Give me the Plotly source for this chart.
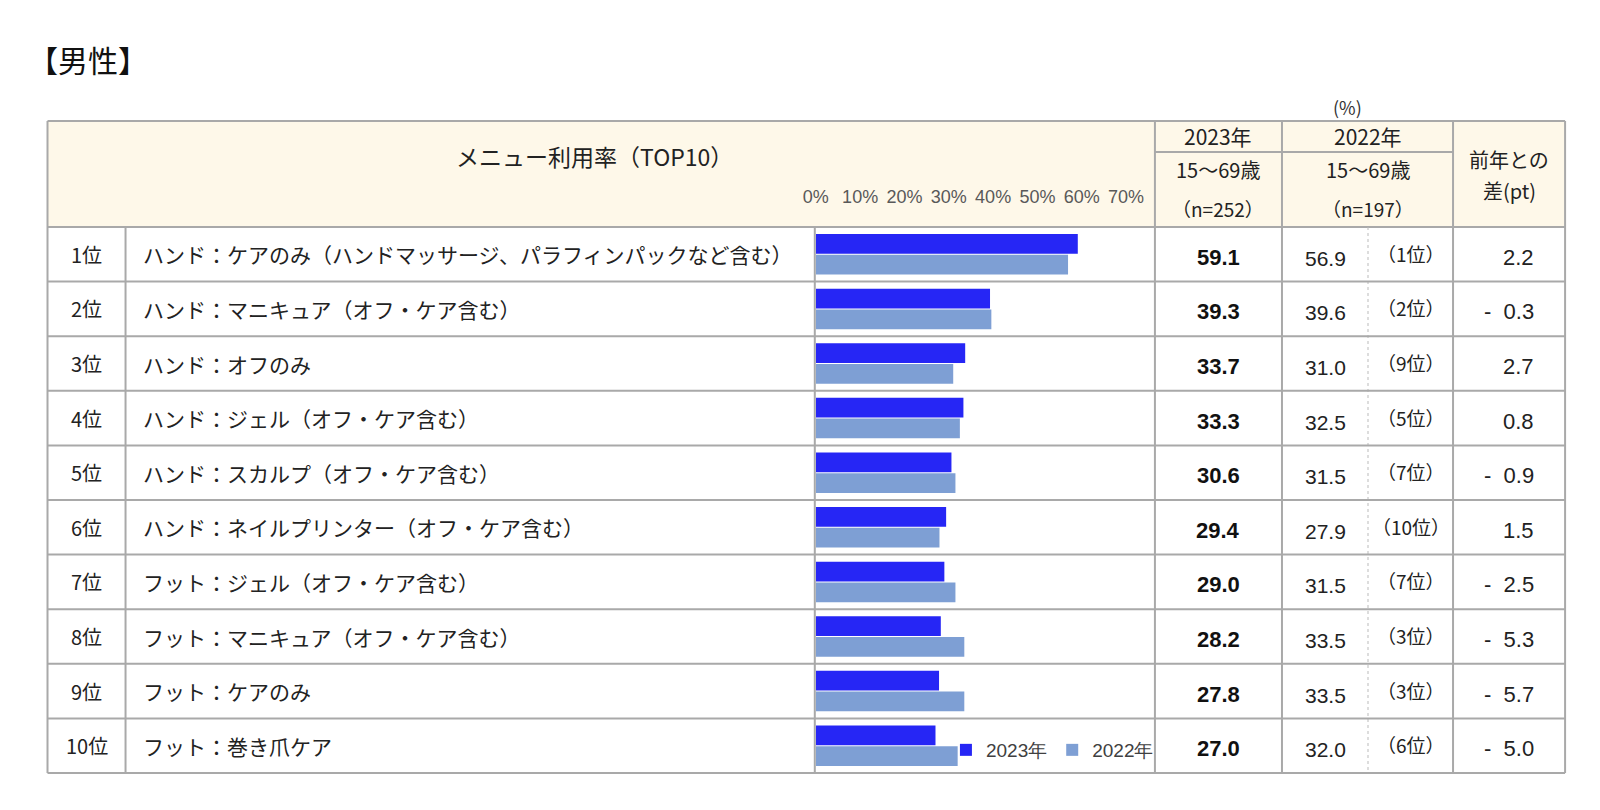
import plotly.graph_objects as go

W, H = 1600, 810

ranks = ["1位", "2位", "3位", "4位", "5位", "6位", "7位", "8位", "9位", "10位"]
menus = [
    "ハンド：ケアのみ（ハンドマッサージ、パラフィンパックなど含む）",
    "ハンド：マニキュア（オフ・ケア含む）",
    "ハンド：オフのみ",
    "ハンド：ジェル（オフ・ケア含む）",
    "ハンド：スカルプ（オフ・ケア含む）",
    "ハンド：ネイルプリンター（オフ・ケア含む）",
    "フット：ジェル（オフ・ケア含む）",
    "フット：マニキュア（オフ・ケア含む）",
    "フット：ケアのみ",
    "フット：巻き爪ケア",
]
v2023 = [59.1, 39.3, 33.7, 33.3, 30.6, 29.4, 29.0, 28.2, 27.8, 27.0]
v2022 = [56.9, 39.6, 31.0, 32.5, 31.5, 27.9, 31.5, 33.5, 33.5, 32.0]
rank2022 = ["（1位）", "（2位）", "（9位）", "（5位）", "（7位）", "（10位）", "（7位）", "（3位）", "（3位）", "（6位）"]
diffs = [2.2, -0.3, 2.7, 0.8, -0.9, 1.5, -2.5, -5.3, -5.7, -5.0]
tick_vals = [0, 10, 20, 30, 40, 50, 60, 70]
tick_text = ["0%", "10%", "20%", "30%", "40%", "50%", "60%", "70%"]

JP = "Noto Sans CJK JP"
NUM = "Liberation Sans, Arial"
BLUE = "#2626F5"
LIGHT = "#7E9FD4"
GRID = "#A9A9A9"
CREAM = "#FEF8E9"

# page-pixel -> paper conversion (compensates page offset)
XS, XB = 0.9915, 20.5
OY = 8

def X(px):
    return ((px - XB) / XS) / W

def Y(py):
    return 1 - (py - OY) / H

# table geometry (page pixels)
L, R = 47, 1564
TOP, HB = 121, 227
BOT = 773
C_RANK, C_BAR, C_23, C_22, C_22R, C_DIFF = 125, 814, 1154, 1281, 1367, 1452
RH = (BOT - HB) / len(ranks)

fig = go.Figure()
fig.add_trace(go.Bar(y=ranks, x=v2023, orientation="h", name="2023年",
                     marker=dict(color=BLUE, line=dict(width=0)), hoverinfo="skip"))
fig.add_trace(go.Bar(y=ranks, x=v2022, orientation="h", name="2022年",
                     marker=dict(color=LIGHT, line=dict(width=0)), hoverinfo="skip"))

shapes = []
shapes.append(dict(type="rect", xref="paper", yref="paper", x0=X(L), x1=X(R), y0=Y(HB), y1=Y(TOP),
                   fillcolor=CREAM, line=dict(width=0), layer="below"))

def hline(x0, x1, y, w=2, color=GRID, dash=None):
    d = dict(type="line", xref="paper", yref="paper", x0=X(x0), x1=X(x1), y0=Y(y), y1=Y(y),
             line=dict(color=color, width=w))
    if dash:
        d["line"]["dash"] = dash
    shapes.append(d)

def vline(x, y0, y1, w=2, color=GRID, dash=None):
    d = dict(type="line", xref="paper", yref="paper", x0=X(x), x1=X(x), y0=Y(y0), y1=Y(y1),
             line=dict(color=color, width=w))
    if dash:
        d["line"]["dash"] = dash
    shapes.append(d)

hline(L, R, TOP)
hline(L, R, BOT)
vline(L, TOP, BOT)
vline(R, TOP, BOT)
hline(L, R, HB)
hline(C_23, C_DIFF, 152)
vline(C_23, TOP, BOT)
vline(C_22, TOP, BOT)
vline(C_DIFF, TOP, BOT)
vline(C_RANK, HB, BOT)
vline(C_BAR, HB, BOT)
vline(C_22R, HB, BOT, w=1, color="#BBBBBB", dash="dot")
for i in range(1, len(ranks)):
    hline(L, R, HB + RH * i)

ann = []

def text(x, y, s, size, color="#222222", font=JP, xanchor="center", bold=False):
    ann.append(dict(xref="paper", yref="paper", x=X(x), y=Y(y), text=("<b>%s</b>" % s) if bold else s,
                    showarrow=False, xanchor=xanchor, yanchor="middle",
                    font=dict(family=font, size=size, color=color)))

text(25, 59, "【男性】", 30, color="#111111", xanchor="left")
text(1346, 107, "(%)", 18, color="#333333")
text(594, 156, "メニュー利用率（TOP10）", 23)
text((C_23 + C_22) / 2, 136, "2023年", 21)
text((C_23 + C_22) / 2, 170, "15～69歳", 20)
text((C_23 + C_22) / 2, 208, "（n=252）", 19)
text((C_22 + C_DIFF) / 2, 136, "2022年", 21)
text((C_22 + C_DIFF) / 2, 170, "15～69歳", 20)
text((C_22 + C_DIFF) / 2, 208, "（n=197）", 19)
text((C_DIFF + R) / 2, 159, "前年との", 20)
text((C_DIFF + R) / 2, 191, "差(pt)", 20)

for i in range(len(ranks)):
    cy = HB + RH * (i + 0.5)
    text((L + C_RANK) / 2, cy, ranks[i], 20)
    text(140, cy, menus[i], 21, xanchor="left")
    text((C_23 + C_22) / 2, cy + 3, "%.1f" % v2023[i], 22, color="#111111", font=NUM, bold=True)
    text(1325, cy + 4, "%.1f" % v2022[i], 21, font=NUM)
    text(1410, cy - 1, rank2022[i], 19)
    d = diffs[i]
    s = ("-  %.1f" % abs(d)) if d < 0 else "%.1f" % d
    text(1535, cy + 3, s, 22, font=NUM, xanchor="right")

fig.update_layout(
    width=W, height=H,
    margin=dict(l=0, r=0, t=0, b=0),
    paper_bgcolor="white", plot_bgcolor="rgba(0,0,0,0)",
    barmode="group", bargap=0.24, bargroupgap=0.05,
    shapes=shapes, annotations=ann,
    showlegend=True,
    legend=dict(orientation="h", x=X(1158), y=Y(750), xanchor="right", yanchor="middle",
                bgcolor="rgba(0,0,0,0)", font=dict(family=NUM, size=19, color="#404040"),
                itemwidth=30, tracegroupgap=0),
    xaxis=dict(domain=[X(815), X(C_23)], range=[0, 76.5], side="top",
               tickvals=tick_vals, ticktext=tick_text, showgrid=False, zeroline=False,
               showline=False, ticks="", ticklabelstandoff=19,
               tickfont=dict(family=NUM, size=18, color="#595959"), fixedrange=True),
    yaxis=dict(domain=[Y(BOT), Y(HB)], categoryorder="array", categoryarray=ranks,
               autorange="reversed", showticklabels=False, showgrid=False, zeroline=False,
               showline=False, ticks="", fixedrange=True),
)

fig.write_html("out.html")
